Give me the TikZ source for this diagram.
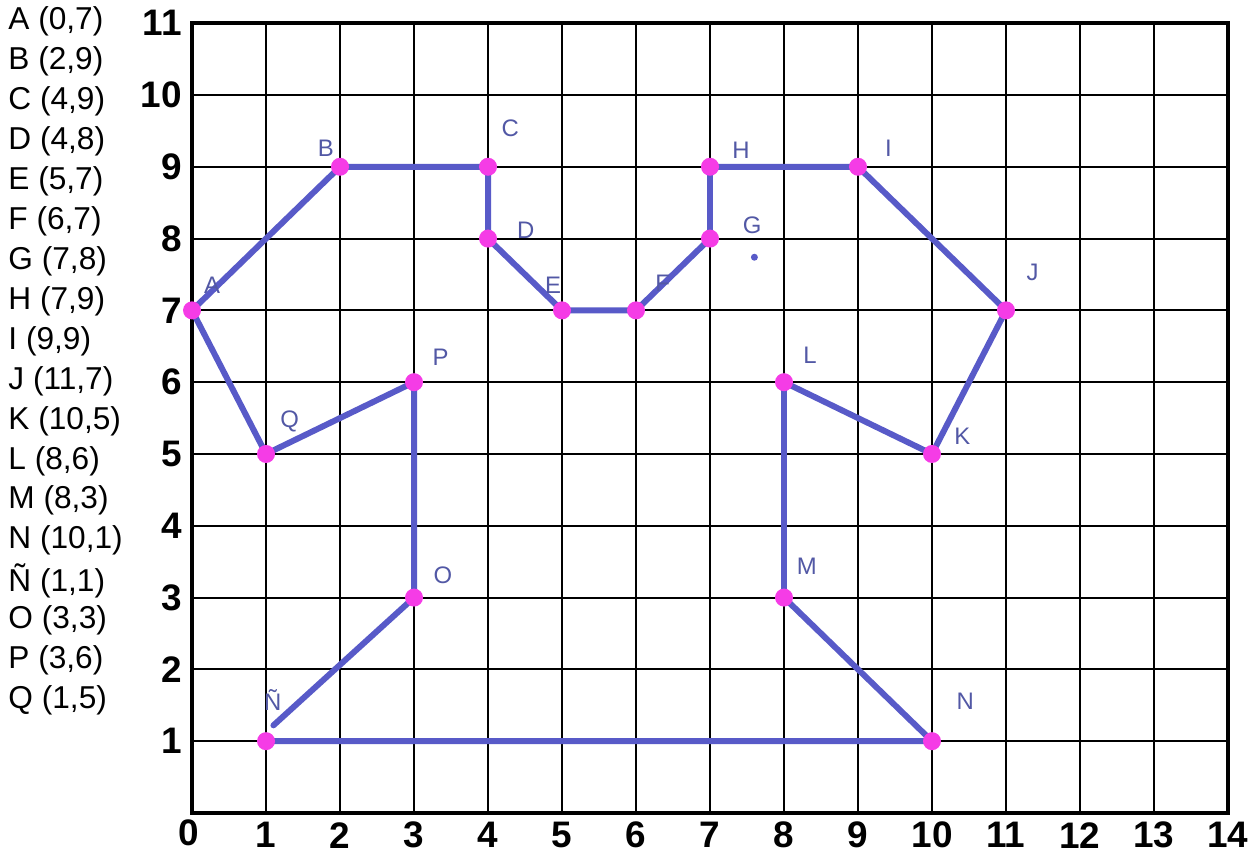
\documentclass[tikz,border=0pt]{standalone}
\usepackage{fontspec}
\setmainfont{Liberation Sans}
\definecolor{shapeblue}{RGB}{88,90,200}
\definecolor{dotpink}{RGB}{245,60,230}
\definecolor{labelblue}{RGB}{82,88,165}

\begin{document}
\begin{tikzpicture}[
  x=0.74cm, y=0.718cm,
  gridline/.style={
    line width=0.6pt
  },
  frame/.style={
    line width=1.2pt
  },
  outline/.style={
    color=shapeblue,
    line width=1.7pt,
    line join=round,
    line cap=round
  },
  vertex/.style={
    circle,
    fill=dotpink,
    minimum size=1.8mm,
    inner sep=0pt
  },
  ptlabel/.style={
    text=labelblue,
    font=\fontsize{6.8}{8}\selectfont,
    inner sep=0pt
  },
  coordlist/.style={
    anchor=west,
    font=\fontsize{9}{11}\selectfont,
    inner sep=0pt
  },
  axisnum/.style={
    font=\fontsize{10.5}{12}\selectfont\bfseries,
    inner sep=0pt
  }
]

\path[use as bounding box] (-2.595,-0.724) rectangle (14.392,11.323);

% grid
\foreach \gx in {1,...,13}
  \draw[gridline] (\gx,0) -- (\gx,11);
\foreach \gy in {1,...,10}
  \draw[gridline] (0,\gy) -- (14,\gy);
\draw[frame] (0,0) rectangle (14,11);

% axis numbers
\foreach \n in {1,...,11}
  \node[axisnum, anchor=east] (ny\n) at (-0.13,\n) {\n};
\foreach \n in {1,...,14}
  \node[axisnum] (nx\n) at (\n,-0.31) {\n};
\node[axisnum] (nx0) at (-0.05,-0.27) {0};

% list of points
\foreach \t [count=\i from 0] in {{A (0,7)},{B (2,9)},{C (4,9)},{D (4,8)},{E (5,7)},
    {F (6,7)},{G (7,8)},{H (7,9)},{I (9,9)},{J (11,7)},{K (10,5)},{L (8,6)},
    {M (8,3)},{N (10,1)},{Ñ (1,1)},{O (3,3)},{P (3,6)},{Q (1,5)}}
  \node[coordlist] (list\i) at (-2.49,11.02-0.556*\i) {\t};

% vertices
\coordinate (A) at (0,7);
\coordinate (B) at (2,9);
\coordinate (C) at (4,9);
\coordinate (D) at (4,8);
\coordinate (E) at (5,7);
\coordinate (F) at (6,7);
\coordinate (G) at (7,8);
\coordinate (H) at (7,9);
\coordinate (I) at (9,9);
\coordinate (J) at (11,7);
\coordinate (K) at (10,5);
\coordinate (L) at (8,6);
\coordinate (M) at (8,3);
\coordinate (N) at (10,1);
\coordinate (Nt) at (1,1);
\coordinate (O) at (3,3);
\coordinate (P) at (3,6);
\coordinate (Q) at (1,5);
\coordinate (nstart) at (1.1,1.22);

\draw[outline] (A) -- (B) -- (C) -- (D) -- (E) -- (F) -- (G) -- (H) -- (I)
  -- (J) -- (K) -- (L) -- (M) -- (N) -- (Nt);
\draw[outline] (nstart) -- (O) -- (P) -- (Q) -- (A);

\foreach \p in {A,B,C,D,E,F,G,H,I,J,K,L,M,N,Nt,O,P,Q}
  \node[vertex] (dot\p) at (\p) {};

\fill[shapeblue] (7.6,7.74) circle (0.35mm);

% point labels
\node[ptlabel] (lA) at (0.27,7.35) {A};
\node[ptlabel] (lB) at (1.81,9.26) {B};
\node[ptlabel] (lC) at (4.30,9.54) {C};
\node[ptlabel] (lD) at (4.51,8.12) {D};
\node[ptlabel] (lE) at (4.88,7.35) {E};
\node[ptlabel] (lF) at (6.36,7.38) {F};
\node[ptlabel] (lG) at (7.57,8.19) {G};
\node[ptlabel] (lH) at (7.42,9.23) {H};
\node[ptlabel] (lI) at (9.41,9.26) {I};
\node[ptlabel] (lJ) at (11.36,7.53) {J};
\node[ptlabel] (lK) at (10.41,5.24) {K};
\node[ptlabel] (lL) at (8.35,6.38) {L};
\node[ptlabel] (lM) at (8.31,3.43) {M};
\node[ptlabel] (lN) at (10.45,1.55) {N};
\node[ptlabel] (lNt) at (1.09,1.57) {Ñ};
\node[ptlabel] (lO) at (3.39,3.31) {O};
\node[ptlabel] (lP) at (3.36,6.34) {P};
\node[ptlabel] (lQ) at (1.32,5.45) {Q};

\end{tikzpicture}
\end{document}
